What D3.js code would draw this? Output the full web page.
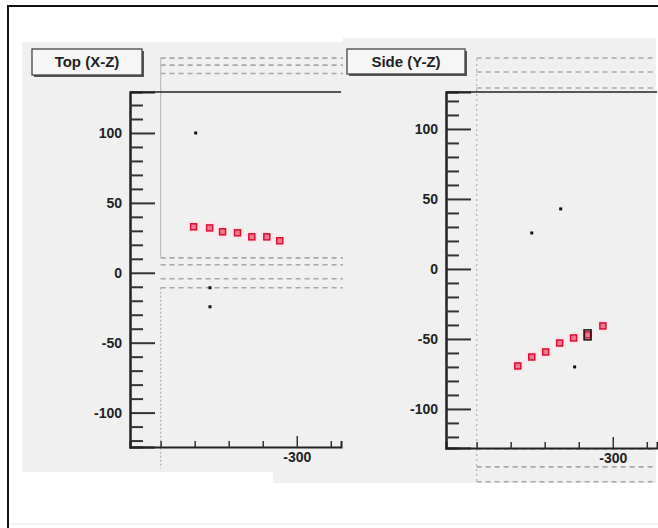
<!DOCTYPE html>
<html>
<head>
<meta charset="utf-8">
<script src="https://cdn.jsdelivr.net/npm/d3@7"></script>
<style>
  body { margin: 0; background: #fff; }
  text { font-family: "Liberation Sans", Arial, sans-serif; font-weight: bold; }
</style>
</head>
<body>
<svg id="chart" width="658" height="528"></svg>
<script>
// horizontal axis (Z) shared by both views
var zDomain = [-349, -287];
var zTicks = [-340, -330, -320, -310, -300, -290];
var zLabels = [-300];
var vMajor = [-100, -50, 0, 50, 100];
var vMinor = [-120, -110, -90, -80, -70, -60, -40, -30, -20, -10, 10, 20, 30, 40, 60, 70, 80, 90, 110, 120];

// Top (X-Z)
var topRedZ = [-330.3, -325.6, -321.8, -317.4, -313.2, -308.8, -305.0];
var topRedX = [32.9, 32.1, 29.3, 28.6, 25.7, 25.7, 22.9];
var topBlackZ = [-329.7, -325.5, -325.5];
var topBlackX = [100, -10.7, -24.3];
var topGuideV = [-340];
var topGuideH = [153.5, 148.5, 142.5, 10.7, 5.7, -4.3, -10.7];

// Side (Y-Z)
var sideRedZ = [-327.9, -323.8, -319.7, -315.6, -311.5, -307.4, -302.9];
var sideRedY = [-69.3, -62.9, -59.3, -52.9, -49.3, -47.1, -40.7];
var sideBlackZ = [-323.8, -315.3, -311.2];
var sideBlackY = [25.7, 42.9, -70];
var sideHitZ = [-307.4];
var sideHitY = [-47.1];
var sideGuideV = [-340];
var sideGuideH = [150.7, 140.7, 129.3, -128.6, -141.4, -152];

var svg = d3.select("#chart");
var fmt = function(d) { return String(d); };

function drawPad(cfg) {
    var g = svg.append("g");
    // pad background
    g.append("rect")
        .attr("x", cfg.bg[0]).attr("y", cfg.bg[1])
        .attr("width", cfg.bg[2]).attr("height", cfg.bg[3])
        .attr("fill", "#f0f0f0");

    var x = d3.scaleLinear().domain(zDomain).range([cfg.left, cfg.right]);
    var y = d3.scaleLinear().domain(cfg.yDomain).range([cfg.bottom, cfg.top]);

    // dashed guide lines
    g.selectAll(".gh").data(cfg.guideH).enter().append("line")
        .attr("x1", x(-340)).attr("x2", cfg.bg[0] + cfg.bg[2])
        .attr("y1", function(d) { return y(d); })
        .attr("y2", function(d) { return y(d); })
        .attr("stroke", "#a8a8a8").attr("stroke-width", 1.6)
        .attr("stroke-dasharray", "5,4");
    g.selectAll(".gv").data(cfg.guideV).enter().append("line")
        .attr("x1", function(d) { return x(d); })
        .attr("x2", function(d) { return x(d); })
        .attr("y1", y(cfg.guideVSpan[0])).attr("y2", y(cfg.guideVSpan[1]))
        .attr("stroke", "#b8b8b8").attr("stroke-width", 1.3)
        .attr("stroke-dasharray", cfg.guideVDash);
    if (cfg.guideVSolid) {
        g.append("line")
            .attr("x1", x(-340)).attr("x2", x(-340))
            .attr("y1", y(cfg.guideVSolid[0])).attr("y2", y(cfg.guideVSolid[1]))
            .attr("stroke", "#c0c0c0").attr("stroke-width", 1.3);
    }

    // frame top line
    g.append("line")
        .attr("x1", cfg.left).attr("x2", cfg.right)
        .attr("y1", cfg.top).attr("y2", cfg.top)
        .attr("stroke", "#222").attr("stroke-width", 1.5);

    // y axis: major + minor ticks drawn inward
    var yMaj = g.append("g").attr("transform", "translate(" + cfg.left + ",0)")
        .call(d3.axisLeft(y).tickValues(vMajor).tickSize(-25).tickPadding(8).tickFormat(fmt));
    var yMin = g.append("g").attr("transform", "translate(" + cfg.left + ",0)")
        .call(d3.axisLeft(y).tickValues(vMinor).tickSize(-13).tickFormat(""));
    [yMaj, yMin].forEach(function(a) {
        a.select(".domain").attr("stroke", "#222").attr("stroke-width", 2);
        a.selectAll(".tick line").attr("stroke", "#333").attr("stroke-width", 2);
        a.selectAll("text").attr("font-size", 14).attr("fill", "#222")
            .style("font-family", "Liberation Sans, Arial, sans-serif").style("font-weight", "bold");
    });

    // x axis
    var xAx = g.append("g").attr("transform", "translate(0," + cfg.bottom + ")")
        .call(d3.axisBottom(x).tickValues(zTicks).tickSize(-6).tickPadding(5)
            .tickFormat(function(d) { return zLabels.indexOf(d) >= 0 ? fmt(d) : ""; }));
    xAx.select(".domain").attr("stroke", "#222").attr("stroke-width", 2);
    xAx.selectAll(".tick line").attr("stroke", "#333").attr("stroke-width", 1.5)
        .attr("y2", function(d) { return zLabels.indexOf(d) >= 0 ? -11 : -6; });
    xAx.selectAll("text").attr("font-size", 14).attr("fill", "#222")
        .style("font-family", "Liberation Sans, Arial, sans-serif").style("font-weight", "bold");

    // black hits
    g.selectAll(".bk").data(cfg.blackZ).enter().append("rect")
        .attr("x", function(d) { return x(d) - 1.5; })
        .attr("y", function(d, i) { return y(cfg.blackV[i]) - 1.5; })
        .attr("width", 3).attr("height", 3)
        .attr("fill", "#111");

    // red track points
    g.selectAll(".halo").data(cfg.redZ).enter().append("rect")
        .attr("x", function(d) { return x(d) - 6; })
        .attr("y", function(d, i) { return y(cfg.redV[i]) - 6; })
        .attr("width", 12).attr("height", 12).attr("rx", 4)
        .attr("fill", "#fbe6ea");
    g.selectAll(".red").data(cfg.redZ).enter().append("rect")
        .attr("x", function(d) { return x(d) - 3; })
        .attr("y", function(d, i) { return y(cfg.redV[i]) - 3; })
        .attr("width", 6).attr("height", 6)
        .attr("fill", "#f07a8c").attr("stroke", "#d81034").attr("stroke-width", 1.5);

    if (cfg.hitZ) {
        g.selectAll(".hit").data(cfg.hitZ).enter().append("rect")
            .attr("x", function(d) { return x(d) - 3.5; })
            .attr("y", function(d, i) { return y(cfg.hitV[i]) - 5; })
            .attr("width", 7).attr("height", 10)
            .attr("fill", "none").attr("stroke", "#111").attr("stroke-width", 1.5);
    }

    // title box
    var b = cfg.titleBox;
    g.append("rect").attr("x", b[0] + 2).attr("y", b[1] + 2).attr("width", b[2]).attr("height", b[3])
        .attr("fill", "#555");
    g.append("rect").attr("x", b[0]).attr("y", b[1]).attr("width", b[2]).attr("height", b[3])
        .attr("fill", "#f6f6f6").attr("stroke", "#444").attr("stroke-width", 1.3);
    g.append("text").attr("x", b[0] + b[2] / 2).attr("y", b[1] + b[3] / 2 + 5)
        .attr("text-anchor", "middle").attr("font-size", 15).attr("fill", "#222")
        .text(cfg.title);
    return g;
}

// strip of the side pad that shows below the top pad
svg.append("rect")
    .attr("x", 273).attr("y", 470).attr("width", 72).attr("height", 13)
    .attr("fill", "#f0f0f0");

drawPad({
    bg: [22, 42, 321, 430],
    left: 130, right: 341, top: 92, bottom: 447,
    yDomain: [-124.6, 129.3],
    guideH: topGuideH, guideV: topGuideV,
    guideVSpan: [-10.7, -140], guideVDash: "2,2", guideVSolid: [10.7, 153.5],
    redZ: topRedZ, redV: topRedX,
    blackZ: topBlackZ, blackV: topBlackX,
    titleBox: [32, 49, 110, 26], title: "Top (X-Z)"
});

drawPad({
    bg: [343, 38, 313, 445],
    left: 446, right: 657, top: 92, bottom: 448,
    yDomain: [-127.9, 126.4],
    guideH: sideGuideH, guideV: sideGuideV,
    guideVSpan: [150, -152], guideVDash: "2,3", guideVSolid: null,
    redZ: sideRedZ, redV: sideRedY,
    blackZ: sideBlackZ, blackV: sideBlackY,
    hitZ: sideHitZ, hitV: sideHitY,
    titleBox: [347, 49, 118, 25], title: "Side (Y-Z)"
});

// outer canvas border
svg.append("path")
    .attr("d", "M8,528 L8,6 L658,6")
    .attr("fill", "none").attr("stroke", "#111").attr("stroke-width", 2);
svg.append("line").attr("x1", 9).attr("x2", 658).attr("y1", 524).attr("y2", 524)
    .attr("stroke", "#e4e4e4").attr("stroke-width", 1);
</script>
</body>
</html>
